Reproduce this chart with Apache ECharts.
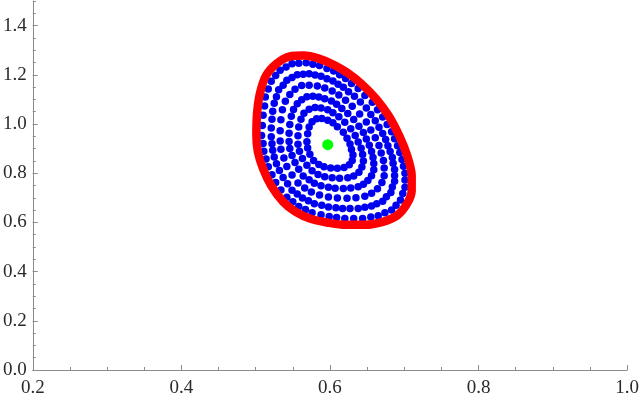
<!DOCTYPE html>
<html>
<head>
<meta charset="utf-8">
<title>orbit rings</title>
<script src="https://cdn.jsdelivr.net/npm/echarts@6/dist/echarts.min.js"></script>
<style>
    html, body { margin: 0; padding: 0; background: #fff; }
    #chart { width: 642px; height: 400px; }
</style>
</head>
<body>
<div id="chart"></div>
<script>
// red boundary, read along the band centre (first/last points overlap so the band closes cleanly)
const boundary = [
    [0.528,1.245],
    [0.545,1.274],[0.565,1.278],[0.585,1.266],[0.605,1.241],[0.623,1.209],[0.642,1.164],[0.662,1.103],[0.678,1.038],
    [0.690,0.973],[0.699,0.912],[0.706,0.851],[0.710,0.790],[0.710,0.729],[0.703,0.672],[0.690,0.627],[0.671,0.602],
    [0.648,0.590],[0.621,0.590],[0.599,0.598],[0.574,0.615],[0.554,0.643],[0.537,0.684],[0.521,0.749],[0.510,0.818],
    [0.503,0.887],[0.501,0.956],[0.502,1.046],[0.506,1.127],[0.514,1.197],[0.528,1.245],[0.545,1.274],[0.565,1.278]
];
// blue orbits, outermost first
const ring1 = [
    [0.549,1.245],[0.558,1.247],[0.568,1.249],[0.577,1.243],[0.586,1.238],[0.596,1.226],[0.605,1.215],[0.613,1.200],[0.621,1.185],[0.629,1.165],
    [0.638,1.144],[0.647,1.116],[0.657,1.088],[0.664,1.058],[0.671,1.028],[0.677,0.998],[0.683,0.968],[0.687,0.940],[0.691,0.912],[0.694,0.884],
    [0.697,0.856],[0.699,0.828],[0.701,0.800],[0.701,0.772],[0.701,0.743],[0.698,0.717],[0.695,0.691],[0.689,0.670],[0.683,0.650],[0.674,0.639],
    [0.665,0.627],[0.655,0.622],[0.644,0.616],[0.632,0.616],[0.620,0.616],[0.609,0.620],[0.599,0.624],[0.588,0.631],[0.576,0.639],[0.567,0.652],
    [0.558,0.665],[0.550,0.684],[0.542,0.702],[0.534,0.732],[0.527,0.762],[0.522,0.794],[0.517,0.826],[0.514,0.858],[0.511,0.889],[0.510,0.921],
    [0.508,0.953],[0.509,0.994],[0.510,1.036],[0.512,1.073],[0.513,1.110],[0.517,1.142],[0.521,1.174],[0.527,1.197],[0.533,1.219],[0.541,1.232]
];
const ring2 = [
    [0.556,1.200],[0.564,1.202],[0.572,1.204],[0.580,1.199],[0.588,1.194],[0.596,1.184],[0.604,1.175],[0.611,1.162],[0.618,1.149],[0.625,1.131],
    [0.633,1.113],[0.641,1.089],[0.649,1.065],[0.655,1.039],[0.661,1.013],[0.666,0.987],[0.671,0.961],[0.675,0.937],[0.678,0.912],[0.681,0.888],
    [0.684,0.864],[0.685,0.840],[0.687,0.815],[0.687,0.791],[0.687,0.767],[0.684,0.744],[0.682,0.722],[0.676,0.704],[0.671,0.686],[0.663,0.676],
    [0.656,0.667],[0.647,0.662],[0.638,0.657],[0.627,0.657],[0.617,0.657],[0.608,0.660],[0.598,0.663],[0.589,0.670],[0.579,0.676],[0.571,0.688],
    [0.563,0.699],[0.556,0.715],[0.549,0.731],[0.543,0.757],[0.537,0.783],[0.532,0.811],[0.528,0.838],[0.525,0.866],[0.523,0.893],[0.522,0.920],
    [0.521,0.948],[0.521,0.984],[0.522,1.019],[0.523,1.052],[0.525,1.084],[0.528,1.111],[0.531,1.139],[0.537,1.158],[0.542,1.178],[0.549,1.189]
];
const ring3 = [
    [0.562,1.156],[0.572,1.158],[0.583,1.154],[0.593,1.146],[0.603,1.134],[0.612,1.118],[0.621,1.097],[0.630,1.072],[0.640,1.041],[0.649,1.008],
    [0.655,0.976],[0.661,0.944],[0.666,0.913],[0.669,0.882],[0.672,0.852],[0.673,0.821],[0.673,0.790],[0.670,0.762],[0.664,0.737],[0.656,0.718],
    [0.647,0.706],[0.635,0.700],[0.623,0.698],[0.610,0.699],[0.598,0.703],[0.586,0.711],[0.575,0.724],[0.566,0.740],[0.557,0.760],[0.549,0.793],
    [0.542,0.827],[0.538,0.862],[0.534,0.897],[0.533,0.931],[0.533,0.973],[0.534,1.017],[0.536,1.058],[0.540,1.092],[0.546,1.120],[0.553,1.141]
];
const ring4 = [
    [0.569,1.111],[0.577,1.113],[0.585,1.110],[0.593,1.103],[0.602,1.093],[0.609,1.080],[0.616,1.063],[0.624,1.043],[0.632,1.018],[0.639,0.991],
    [0.645,0.965],[0.649,0.939],[0.653,0.914],[0.656,0.888],[0.658,0.864],[0.659,0.839],[0.659,0.814],[0.656,0.790],[0.651,0.770],[0.645,0.755],
    [0.638,0.745],[0.628,0.740],[0.618,0.738],[0.607,0.739],[0.598,0.743],[0.588,0.749],[0.579,0.759],[0.572,0.773],[0.564,0.789],[0.558,0.816],
    [0.553,0.844],[0.549,0.872],[0.546,0.900],[0.545,0.929],[0.545,0.962],[0.546,0.998],[0.548,1.031],[0.551,1.059],[0.556,1.082],[0.562,1.099]
];
const ring5 = [
    [0.580,1.067],[0.588,1.065],[0.597,1.058],[0.604,1.046],[0.612,1.029],[0.620,1.007],[0.628,0.981],[0.634,0.953],[0.638,0.927],[0.642,0.901],
    [0.644,0.876],[0.645,0.850],[0.643,0.825],[0.639,0.804],[0.632,0.789],[0.624,0.782],[0.613,0.779],[0.603,0.781],[0.593,0.786],[0.584,0.795],
    [0.576,0.810],[0.569,0.832],[0.563,0.860],[0.559,0.889],[0.557,0.918],[0.557,0.952],[0.558,0.988],[0.561,1.019],[0.565,1.044],[0.572,1.060]
];
const ring6 = [
    [0.582,1.021],[0.589,1.022],[0.597,1.015],[0.604,1.005],[0.610,0.989],[0.618,0.966],[0.623,0.942],[0.627,0.919],[0.629,0.896],[0.631,0.874],
    [0.630,0.852],[0.626,0.834],[0.619,0.823],[0.610,0.820],[0.601,0.821],[0.592,0.826],[0.585,0.835],[0.578,0.852],[0.573,0.877],[0.570,0.902],
    [0.569,0.928],[0.570,0.960],[0.572,0.988],[0.576,1.009]
];
// green centre
const centre = [[0.597, 0.916]];

const xRange = [0.2, 1.0];
const yRange = [0, 1.5];

const chart = echarts.init(document.getElementById('chart'));

const labelFont = "'Liberation Serif', 'DejaVu Serif'";

// shared axis look (grey line, ticks pointing inward)
const axisBase = {
    type: 'value',
    axisLine: { show: true, lineStyle: { color: '#8c8c8c', width: 1 } },
    axisTick: { show: true, inside: true, length: 5, lineStyle: { color: '#8c8c8c' } },
    axisLabel: {
        color: '#2a2a2a',
        fontFamily: labelFont,
        fontWeight: 'normal',
        fontSize: 19,
        formatter: v => v.toFixed(1)
    },
    splitLine: { show: false }
};
// minor tick axis: no line, no labels, short ticks
const minorBase = {
    type: 'value',
    axisLine: { show: false },
    axisTick: { show: true, inside: true, length: 3, lineStyle: { color: '#8c8c8c' } },
    axisLabel: { show: false },
    splitLine: { show: false }
};

const xMajor = Object.assign({}, axisBase, {
    position: 'bottom', min: xRange[0], max: xRange[1], interval: 0.2,
    axisLabel: Object.assign({}, axisBase.axisLabel, { margin: 9 })
});
const xMinor = Object.assign({}, minorBase, {
    position: 'bottom', min: xRange[0], max: xRange[1], interval: 0.05
});
const yMajor = Object.assign({}, axisBase, {
    position: 'left', min: yRange[0], max: yRange[1], interval: 0.2,
    axisLabel: Object.assign({}, axisBase.axisLabel, { margin: 6, showMaxLabel: false })
});
const yMinor = Object.assign({}, minorBase, {
    position: 'left', min: yRange[0], max: yRange[1], interval: 0.05
});

const dotSeries = (data) => ({
    type: 'scatter',
    data: data,
    symbolSize: 7.5,
    itemStyle: { color: '#0000f0', opacity: 1 },
    silent: true,
    z: 2
});

const option = {
    animation: false,
    backgroundColor: '#fff',
    grid: { left: 31, right: 13, top: 1, bottom: 30 },
    xAxis: [xMajor, xMinor],
    yAxis: [yMajor, yMinor],
    series: [
        dotSeries(ring1),
        dotSeries(ring2),
        dotSeries(ring3),
        dotSeries(ring4),
        dotSeries(ring5),
        dotSeries(ring6),
        {
            type: 'line',
            data: boundary,
            smooth: 0.35,
            showSymbol: false,
            lineStyle: { color: '#ff0000', width: 8.5 },
            silent: true,
            z: 3
        },
        {
            type: 'scatter',
            data: centre,
            symbolSize: 11,
            itemStyle: { color: '#00ff00', opacity: 1 },
            silent: true,
            z: 4
        }
    ]
};

chart.setOption(option);
</script>
</body>
</html>
